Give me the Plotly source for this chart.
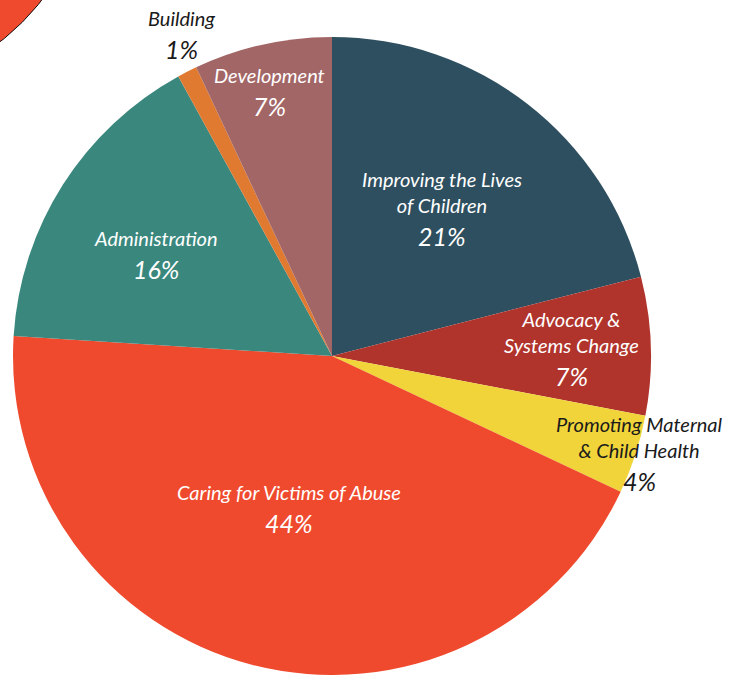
import math
import plotly.graph_objects as go

# ---- data ----
labels = ["Improving the Lives of Children", "Advocacy & Systems Change",
          "Promoting Maternal & Child Health", "Caring for Victims of Abuse",
          "Administration", "Building", "Development"]
label_lines = [["Improving the Lives", "of Children"], ["Advocacy &", "Systems Change"],
               ["Promoting Maternal", "& Child Health"], ["Caring for Victims of Abuse"],
               ["Administration"], ["Building"], ["Development"]]
values = [21, 7, 4, 44, 16, 1, 7]
pct_text = ["21%", "7%", "4%", "44%", "16%", "1%", "7%"]

# ---- styles ----
colors = ["#2e4f5f", "#b0332c", "#f0d43a", "#ef4a2e", "#3a877d", "#e07a30", "#a36666"]
text_colors = ["white", "white", "#1a1a1a", "white", "white", "#1a1a1a", "white"]
label_r = [0.55, 0.75, 1.02, 0.49, 0.64, 1.12, 0.86]
label_dang = [1.0, 2.5, 1.3, 1.5, -1.7, 2.0, -0.5]   # degrees

W, H = 742, 675
cx, cy, R = 332, 356, 319
FONT = "Lato"

fig = go.Figure(go.Pie(
    labels=labels, values=values, sort=False, direction="clockwise", rotation=0,
    marker=dict(colors=colors, line=dict(width=0)),
    textinfo="none", hoverinfo="label+percent", showlegend=False,
    domain=dict(x=[max(0, (cx - R) / W), min(1, (cx + R) / W)],
                y=[max(0, 1 - (cy + R) / H), min(1, 1 - (cy - R) / H)]),
))

total = sum(values)
cum = 0
annotations = []
for i, v in enumerate(values):
    mid = (cum + v / 2) / total * 2 * math.pi + math.radians(label_dang[i])
    cum += v
    r = label_r[i] * R
    px = cx + r * math.sin(mid)
    py = cy - r * math.cos(mid)
    ax, ay = px / W, 1 - py / H
    annotations.append(dict(
        x=ax, y=ay, xref="paper", yref="paper", xanchor="center", yanchor="bottom",
        text="<br>".join(label_lines[i]), showarrow=False, align="center",
        font=dict(family=FONT, size=20, color=text_colors[i], style="italic"),
    ))
    annotations.append(dict(
        x=ax, y=ay, xref="paper", yref="paper", xanchor="center", yanchor="top",
        text=pct_text[i], showarrow=False, align="center",
        font=dict(family=FONT, size=25, color=text_colors[i], style="italic"),
    ))

# decorative corner circle
ccx, ccy, cr = -150, -150, 243.6
shapes = [dict(type="circle", xref="paper", yref="paper",
               x0=(ccx - cr) / W, x1=(ccx + cr) / W,
               y0=1 - (ccy + cr) / H, y1=1 - (ccy - cr) / H,
               fillcolor="#ef4a2e", line=dict(color="#111111", width=1), layer="below")]

fig.update_layout(
    width=W, height=H, margin=dict(l=0, r=0, t=0, b=0),
    paper_bgcolor="white", plot_bgcolor="white",
    annotations=annotations, shapes=shapes,
)
fig.write_html("out.html")
